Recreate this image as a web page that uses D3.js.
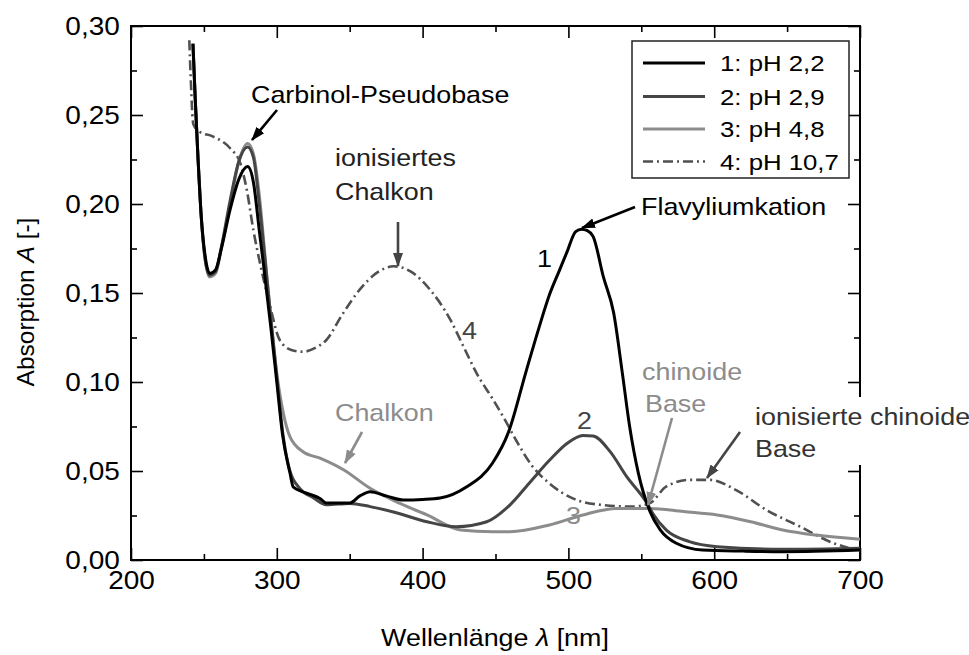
<!DOCTYPE html>
<html><head><meta charset="utf-8">
<script src="https://cdn.jsdelivr.net/npm/d3@7"></script>
<style>
body{margin:0;background:#fff}
svg{display:block}
text{font-family:"Liberation Sans",Arial,Helvetica,sans-serif}
</style>
</head><body>
<svg id="chart" width="969" height="655"></svg>
<script>
// ---- data ----
const xTicks = [200, 300, 400, 500, 600, 700];
const xMinor = [250, 350, 450, 550, 650];
const yTicks = [0, 0.05, 0.10, 0.15, 0.20, 0.25, 0.30];
const yMinor = [0.025, 0.075, 0.125, 0.175, 0.225, 0.275];

const seriesNames = ["1: pH 2,2", "2: pH 2,9", "3: pH 4,8", "4: pH 10,7"];

const nm1 = [242.5, 244, 246, 248, 251, 254, 258, 262, 268, 274, 280, 284, 288, 291, 296, 300, 304, 309, 311.3, 320.5, 329.6, 334, 350, 357, 364, 375, 387, 400, 412, 430, 448, 459, 471, 480, 487, 494, 499, 505, 509, 513, 517, 524, 531, 537, 542, 548, 556, 563, 574, 592, 620, 647, 700];
const a1  = [0.29, 0.26, 0.225, 0.195, 0.17, 0.161, 0.163, 0.175, 0.197, 0.214, 0.221, 0.212, 0.185, 0.165, 0.13, 0.1, 0.07, 0.049, 0.041, 0.0375, 0.0346, 0.032, 0.032, 0.036, 0.0384, 0.036, 0.0337, 0.034, 0.0348, 0.041, 0.0545, 0.072, 0.106, 0.131, 0.149, 0.163, 0.173, 0.1845, 0.1858, 0.185, 0.1817, 0.159, 0.139, 0.105, 0.075, 0.0487, 0.0272, 0.0169, 0.0094, 0.0056, 0.005, 0.0047, 0.0056];

const nm2 = [242.5, 244, 246, 248, 251, 254, 258, 262, 268, 274, 280, 284, 288, 292, 296, 300, 304, 309, 316, 325, 334, 350, 364, 380, 403, 423, 444, 460, 474, 487, 499, 510, 517, 528.5, 540, 554, 558, 567, 583, 602, 647, 700];
const a2  = [0.29, 0.26, 0.225, 0.195, 0.168, 0.16, 0.162, 0.176, 0.202, 0.224, 0.232, 0.226, 0.2, 0.168, 0.135, 0.103, 0.072, 0.05, 0.04, 0.035, 0.031, 0.0318, 0.030, 0.027, 0.0215, 0.0187, 0.0215, 0.031, 0.044, 0.056, 0.0655, 0.070, 0.0697, 0.061, 0.0468, 0.0318, 0.026, 0.0169, 0.0103, 0.0075, 0.006, 0.0066];

const nm3 = [242.5, 244, 246, 248, 251, 254, 258, 262, 268, 274, 280, 284, 288, 292, 296, 300, 304.5, 309, 318, 330, 346, 364, 384.5, 403, 426, 448, 460, 487, 510, 533, 556, 579, 602, 625, 647, 670, 700];
const a3  = [0.29, 0.26, 0.225, 0.195, 0.168, 0.159, 0.161, 0.175, 0.2, 0.224, 0.234, 0.228, 0.205, 0.17, 0.135, 0.105, 0.0824, 0.0693, 0.0608, 0.0571, 0.0506, 0.0403, 0.0318, 0.0253, 0.0169, 0.0159, 0.0159, 0.0197, 0.0253, 0.029, 0.029, 0.0272, 0.0253, 0.0215, 0.0169, 0.014, 0.0116];

const nm4 = [240, 241, 242.7, 247, 256, 268, 275, 279.4, 284, 288.5, 295, 302, 310, 318, 326, 334, 345, 357, 368, 380, 392, 405, 419, 428, 437, 448.5, 456.5, 465, 475, 487, 503, 522, 544, 556, 567, 583, 597, 615, 636, 659, 682, 693, 700];
const a4  = [0.292, 0.27, 0.245, 0.2406, 0.238, 0.2313, 0.2228, 0.208, 0.185, 0.1667, 0.144, 0.1236, 0.118, 0.117, 0.119, 0.1236, 0.138, 0.152, 0.161, 0.165, 0.162, 0.152, 0.135, 0.12, 0.105, 0.0899, 0.0787, 0.066, 0.053, 0.043, 0.0346, 0.031, 0.030, 0.032, 0.0412, 0.045, 0.045, 0.0393, 0.028, 0.0187, 0.0094, 0.0066, 0.005];

// ---- styles ----
const colors = ["#000000", "#454545", "#8c8c8c", "#505050"];
const widths = [3, 3, 3, 2.6];
const dashes = [null, null, null, "10,4,2,4"];
const SX = 1.12; // horizontal text stretch of the reference

const svg = d3.select("#chart");
const x = d3.scaleLinear().domain([200, 700]).range([131, 860]);
const y = d3.scaleLinear().domain([0, 0.30]).range([560, 26]);
const fmt = v => d3.format(".2f")(v).replace(".", ",");

// ---- axes ----
function styleAxis(g) {
  g.select(".domain").remove();
  g.selectAll(".tick line").attr("stroke", "#000").attr("stroke-width", 1.6);
  g.selectAll(".tick text").attr("fill", "#000").attr("font-size", 25)
    .attr("font-family", '"Liberation Sans",Arial,sans-serif');
}
svg.append("g").attr("transform", "translate(0,560)")
  .call(d3.axisBottom(x).tickValues(xTicks).tickSize(-12).tickPadding(11).tickFormat(d3.format("d")))
  .call(styleAxis)
  .call(g => g.selectAll(".tick text").attr("transform", `scale(${SX},1)`));
svg.append("g").attr("transform", "translate(0,560)")
  .call(d3.axisBottom(x).tickValues(xMinor).tickSize(-6).tickFormat("")).call(styleAxis);
svg.append("g").attr("transform", "translate(0,26)")
  .call(d3.axisTop(x).tickValues(xTicks).tickSize(-12).tickFormat("")).call(styleAxis);
svg.append("g").attr("transform", "translate(0,26)")
  .call(d3.axisTop(x).tickValues(xMinor).tickSize(-6).tickFormat("")).call(styleAxis);
svg.append("g").attr("transform", "translate(131,0)")
  .call(d3.axisLeft(y).tickValues(yTicks).tickSize(-12).tickPadding(10).tickFormat(fmt))
  .call(styleAxis)
  .call(g => g.selectAll(".tick text").attr("transform", `scale(${SX},1)`));
svg.append("g").attr("transform", "translate(131,0)")
  .call(d3.axisLeft(y).tickValues(yMinor).tickSize(-6).tickFormat("")).call(styleAxis);
svg.append("g").attr("transform", "translate(860,0)")
  .call(d3.axisRight(y).tickValues(yTicks).tickSize(-12).tickFormat("")).call(styleAxis);
svg.append("g").attr("transform", "translate(860,0)")
  .call(d3.axisRight(y).tickValues(yMinor).tickSize(-6).tickFormat("")).call(styleAxis);
// remove empty tick labels of the unlabeled axes
svg.selectAll(".tick text").filter(function(){ return this.textContent === ""; }).remove();

svg.append("rect").attr("x", 131).attr("y", 26).attr("width", 729).attr("height", 534)
  .attr("fill", "none").attr("stroke", "#000").attr("stroke-width", 2);

// ---- text helper ----
function t(str, px, py, color, size, anchor) {
  return svg.append("text").attr("transform", `translate(${px},${py}) scale(${SX},1)`)
    .attr("font-size", size || 24).attr("fill", color || "#000")
    .attr("text-anchor", anchor || "start").text(str);
}

// ---- axis titles ----
const xt = t("", 495, 646, "#000", 24, "middle");
xt.append("tspan").text("Wellenlänge ");
xt.append("tspan").attr("font-style", "italic").text("λ");
xt.append("tspan").text(" [nm]");

const yt = svg.append("text")
  .attr("transform", "translate(34,302) rotate(-90)")
  .attr("text-anchor", "middle").attr("font-size", 24.5).attr("fill", "#000");
yt.append("tspan").text("Absorption ");
yt.append("tspan").attr("font-style", "italic").text("A");
yt.append("tspan").text(" [-]");

// ---- curves ----
const series = [[nm1, a1], [nm2, a2], [nm3, a3], [nm4, a4]];
const line = d3.line().x(d => x(d[0])).y(d => y(d[1])).curve(d3.curveMonotoneX);
[3, 2, 1, 0].forEach(i => {
  const [xs, ys] = series[i];
  const pts = xs.map((v, k) => [v, ys[k]]);
  svg.append("path").datum(pts).attr("d", line)
    .attr("fill", "none").attr("stroke", colors[i]).attr("stroke-width", widths[i])
    .attr("stroke-linejoin", "round")
    .attr("stroke-dasharray", dashes[i]);
});

// ---- legend ----
svg.append("rect").attr("x", 632).attr("y", 41).attr("width", 217).attr("height", 137)
  .attr("fill", "#fff").attr("stroke", "#222").attr("stroke-width", 1.5);
const legY = [63, 96.5, 129, 161.5];
seriesNames.forEach((n, i) => {
  svg.append("line").attr("x1", 643).attr("x2", 705).attr("y1", legY[i]).attr("y2", legY[i])
    .attr("stroke", colors[i]).attr("stroke-width", widths[i]).attr("stroke-dasharray", dashes[i]);
  t(n, 720, legY[i] + 8, "#000", 23);
});

// ---- annotations ----
// white backing behind the label that crosses the right frame
svg.append("rect").attr("x", 750).attr("y", 397).attr("width", 219).attr("height", 68).attr("fill", "#fff");

const defs = svg.append("defs");
function marker(id, color) {
  defs.append("marker").attr("id", id).attr("viewBox", "0 0 14 10")
    .attr("refX", 13).attr("refY", 5).attr("markerWidth", 14).attr("markerHeight", 11)
    .attr("markerUnits", "userSpaceOnUse").attr("orient", "auto")
    .append("path").attr("d", "M0,0 L14,5 L0,10 Z").attr("fill", color);
}
marker("mBlack", "#000"); marker("mDark", "#444"); marker("mGrey", "#8c8c8c");
function arrow(x1, y1, x2, y2, m, color) {
  svg.append("line").attr("x1", x1).attr("y1", y1).attr("x2", x2).attr("y2", y2)
    .attr("stroke", color).attr("stroke-width", 2.6).attr("marker-end", `url(#${m})`);
}
t("Carbinol-Pseudobase", 251, 103, "#000");
arrow(277, 110, 252, 140, "mBlack", "#000");
t("ionisiertes", 335, 166, "#222");
t("Chalkon", 335, 200, "#222");
arrow(398, 222, 398, 266, "mDark", "#444");
t("Flavyliumkation", 641, 215, "#000");
arrow(635, 207, 582, 228, "mBlack", "#000");
t("1", 537, 267, "#000");
t("4", 462, 339, "#444");
t("2", 577, 429, "#444");
t("3", 566, 524, "#8c8c8c");
t("chinoide", 642, 380, "#8c8c8c");
t("Base", 645, 412, "#8c8c8c");
arrow(672, 418, 648, 505, "mGrey", "#8c8c8c");
t("ionisierte chinoide", 755, 425, "#333");
t("Base", 755, 457, "#333");
arrow(740, 432, 707, 478, "mDark", "#444");
t("Chalkon", 335, 421, "#8c8c8c");
arrow(362, 432, 345, 463, "mGrey", "#8c8c8c");
</script>
</body></html>
